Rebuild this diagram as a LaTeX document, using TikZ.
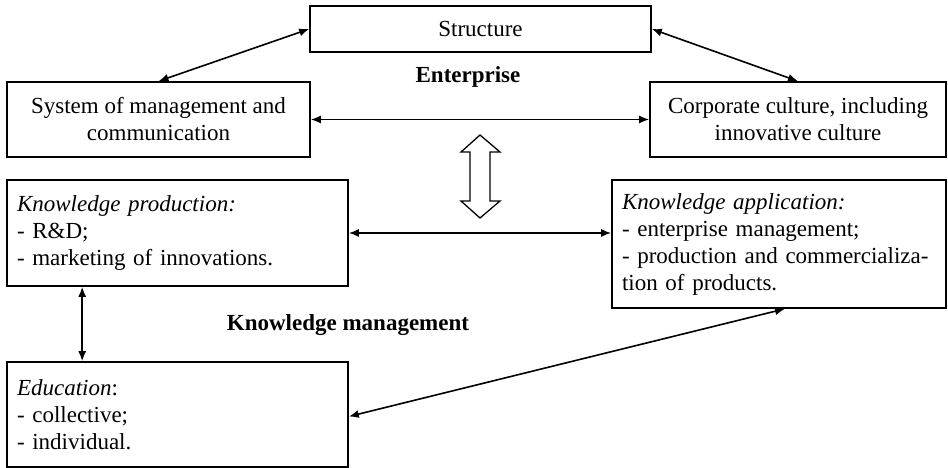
\documentclass[tikz,border=0pt]{standalone}
\usepackage{fontspec}
\setmainfont{Liberation Serif}
\usetikzlibrary{arrows.meta}
\begin{document}
\begin{tikzpicture}[x=1pt,y=-1pt,
  box/.style={draw, line width=1.6pt, inner sep=0pt, font=\fontsize{23}{27}\selectfont},
  lbox/.style={box, align=left},
  cbox/.style={box, align=center},
  link/.style={line width=1.6pt, {Latex[length=10pt,width=8pt]}-{Latex[length=10pt,width=8pt]}},
  title/.style={font=\fontsize{23}{27}\selectfont\bfseries}]
\useasboundingbox (0,0) rectangle (948,468);
\node[cbox, minimum width=341pt, minimum height=46pt] (S) at (480.5,29) {Structure};
\node[cbox, minimum width=303pt, minimum height=75pt] (M) at (158.5,119.5) {System of management and\\communication};
\node[cbox, minimum width=296pt, minimum height=75pt] (C) at (798,119.5) {Corporate culture, including\\innovative culture};
\node[title] (E) at (468,77) {Enterprise};
\node[lbox, minimum width=341pt, minimum height=106pt, text width=321pt] (P) at (177.5,233)
  {\textit{Knowledge production:}\\- R\&D;\\- marketing of innovations.};
\node[lbox, minimum width=334pt, minimum height=128pt, text width=314pt] (A) at (779,244)
  {\textit{Knowledge application:}\\- enterprise management;\\- production and commercializa-\\tion of products.};
\node[lbox, minimum width=341pt, minimum height=105pt, text width=321pt] (D) at (177.5,414.5)
  {\textit{Education}:\\- collective;\\- individual.};
\node[title] (K) at (348,325) {Knowledge management};
\draw[link] (M.north) -- (S.west);
\draw[link] (S.east) -- (C.north);
\draw[link] (M.east) -- (C.west);
\draw[link] (P.east) -- (P.east -| A.west);
\draw[link] ([xshift=76pt]P.south west) -- ([xshift=76pt]D.north west);
\draw[link] ([yshift=-2pt]D.east) -- ([xshift=6pt]A.south);
\draw[line width=1.3pt] (480,135) -- (500,152) -- (490,152) -- (490,201) -- (500,201) -- (480,218)
  -- (461,201) -- (470,201) -- (470,152) -- (461,152) -- cycle;
\end{tikzpicture}
\end{document}
